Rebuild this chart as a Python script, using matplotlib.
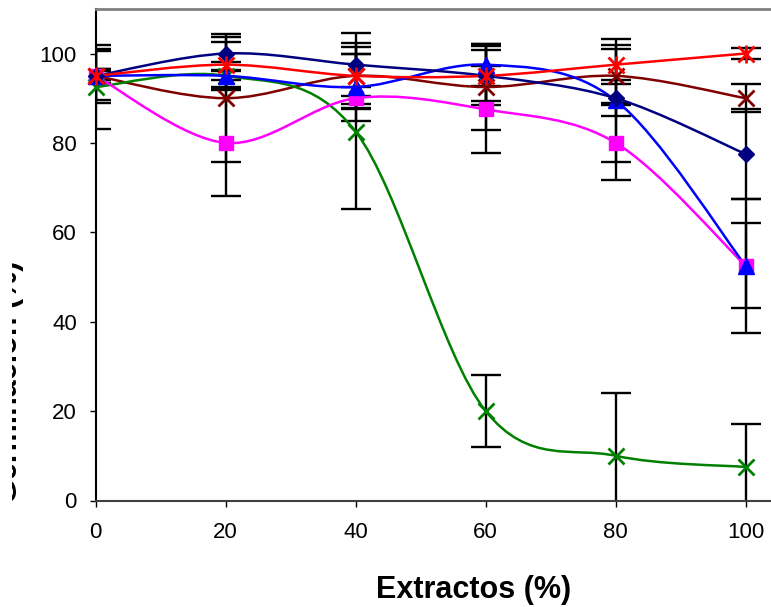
import numpy as np
import matplotlib
matplotlib.use('Agg')
import matplotlib.pyplot as plt
from matplotlib.path import Path
from matplotlib.patches import PathPatch
from matplotlib.transforms import Bbox, TransformedBbox

plt.rcParams['font.family'] = ['Liberation Sans', 'DejaVu Sans']

# ---- data ----
extract = [0, 20, 40, 60, 80, 100]

navy_y = [95, 100, 97.5, 95, 90, 77.5]
navy_err = [6, 3.8, 7, 6.6, 4, 10]

blue_y = [95, 95, 92.5, 97.5, 89.5, 52.5]
blue_err = [5.5, 1, 7.5, 4.7, 13.8, 15]

magenta_y = [95, 80, 90, 87.5, 80, 52.5]
magenta_err = [1.5, 11.8, 2.5, 9.8, 8.4, 9.5]

red_y = [95, 97.5, 95, 95, 97.5, 100]
red_err = [1, 5, 7.3, 5.7, 4.3, 1.3]

darkred_y = [95, 90, 95, 92.5, 95, 90]
darkred_err = [1.5, 14.3, 6.4, 9.7, 6, 3.1]

green_y = [92.5, 95, 82.5, 20, 10, 7.5]
green_err = [9.5, 3, 17.3, 8, 14, 9.7]

yticks = [0, 20, 40, 60, 80, 100]
xticks = [0, 20, 40, 60, 80, 100]


def smooth_path(xs, ys):
    P = np.column_stack([xs, ys]).astype(float)
    n = len(P)
    verts = [P[0]]
    codes = [Path.MOVETO]
    for i in range(n - 1):
        p0 = P[i - 1] if i > 0 else P[i]
        p1 = P[i]
        p2 = P[i + 1]
        p3 = P[i + 2] if i + 2 < n else P[i + 1]
        c1 = p1 + (p2 - p0) / 6.0
        c2 = p2 - (p3 - p1) / 6.0
        verts += [c1, c2, p2]
        codes += [Path.CURVE4] * 3
    return Path(verts, codes)


W, H = 771, 607
fig = plt.figure(figsize=(W / 100, H / 100), dpi=100)
left_px, right_px, bottom_px, top_px = 95.7, 771, 500.5, 9
ax = fig.add_axes([left_px / W, 1 - bottom_px / H,
                   (right_px - left_px) / W, (bottom_px - top_px) / H])

ax.set_xlim(0, (right_px - left_px) / 6.5)
ax.set_ylim(0, (bottom_px - top_px) / 4.47)

series = [
    (darkred_y, darkred_err, '#800000', 'x'),
    (green_y, green_err, '#008000', 'x'),
    (magenta_y, magenta_err, '#FF00FF', 's'),
    (blue_y, blue_err, '#0000FF', '^'),
    (navy_y, navy_err, '#000080', 'D'),
    (red_y, red_err, '#FF0000', '*'),
]

# error bars
for ys, err, col, mk in series:
    ax.errorbar(extract, ys, yerr=err, fmt='none', ecolor='black',
                elinewidth=1.7, capsize=11, capthick=1.7, zorder=2)

# smoothed lines
for ys, err, col, mk in series:
    ax.add_patch(PathPatch(smooth_path(extract, ys), facecolor='none',
                           edgecolor=col, lw=1.8, zorder=3))

# markers
for ys, err, col, mk in series:
    if mk == 'x':
        ax.plot(extract, ys, ls='none', marker='x', ms=11, mew=2,
                color=col, clip_on=False, zorder=4)
    elif mk == 's':
        ax.plot(extract, ys, ls='none', marker='s', ms=10, mew=1,
                color=col, clip_on=False, zorder=4)
    elif mk == '^':
        ax.plot(extract, ys, ls='none', marker='^', ms=11, mew=1,
                color=col, clip_on=False, zorder=4)
    elif mk == 'D':
        ax.plot(extract, ys, ls='none', marker='D', ms=8, mew=1,
                color=col, clip_on=False, zorder=4)
    elif mk == '*':
        ax.plot(extract, ys, ls='none', marker='x', ms=11, mew=2,
                color=col, clip_on=False, zorder=5)
        ax.plot(extract, ys, ls='none', marker='|', ms=13, mew=2,
                color=col, clip_on=False, zorder=5)

# axes styling
ax.spines['right'].set_visible(False)
ax.spines['top'].set_color('#808080')
ax.spines['top'].set_linewidth(2)
ax.spines['left'].set_color('black')
ax.spines['left'].set_linewidth(1.5)
ax.spines['bottom'].set_color('#404040')
ax.spines['bottom'].set_linewidth(1.5)

ax.set_xticks(xticks)
ax.set_yticks(yticks)
ax.set_xticklabels([str(v) for v in xticks])
ax.set_yticklabels([str(v) for v in yticks])
ax.tick_params(axis='y', direction='out', length=4.5, width=1, labelsize=16,
               pad=9)
ax.tick_params(axis='x', direction='out', length=4.5, width=1, labelsize=16,
               pad=11)

fig.text(474 / W, 1 - 598 / H, 'Extractos (%)', ha='center', va='baseline',
         fontsize=22, fontweight='bold')
ylab = fig.text(16.5 / W, 1 - 503 / H, 'Germinación (%)', ha='left',
                va='baseline', rotation=90, rotation_mode='anchor',
                fontsize=22, fontweight='bold')
ylab.set_clip_box(TransformedBbox(Bbox([[11.5 / W, 0], [1, 1]]),
                                  fig.transFigure))
ylab.set_clip_on(True)

fig.savefig('out.png', dpi=100)
